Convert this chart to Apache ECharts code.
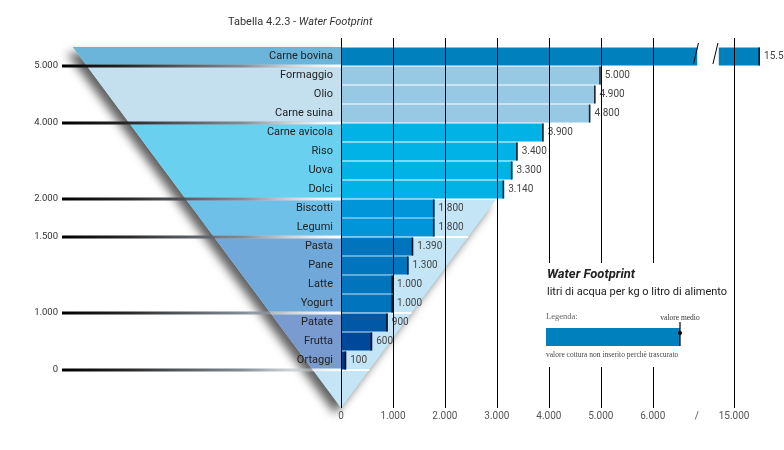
<!DOCTYPE html>
<html><head><meta charset="utf-8">
<script src="https://cdn.jsdelivr.net/npm/echarts@6/dist/echarts.min.js"></script>
<style>html,body{margin:0;padding:0;background:#fff}#c{width:784px;height:450px}</style>
</head><body><div id="c"></div>
<script>
// ---- data ----
const categories = ['Carne bovina','Formaggio','Olio','Carne suina','Carne avicola','Riso','Uova','Dolci','Biscotti','Legumi','Pasta','Pane','Latte','Yogurt','Patate','Frutta','Ortaggi'];
const values = [15500,5000,4900,4800,3900,3400,3300,3140,1800,1800,1390,1300,1000,1000,900,600,100];
const xTickLabels = [0,1000,2000,3000,4000,5000,6000,15000];
const scaleLabels = ['5.000','4.000','2.000','1.500','1.000','0'];
const scaleAfter = ['Carne bovina','Carne suina','Dolci','Legumi','Yogurt','Ortaggi'];
const axisBreak = { start: 6850, end: 14700, gap: 414 };

// ---- styles ----
const barColors = ['#0080BD','#97C9E4','#97C9E4','#97C9E4','#00B2E5','#00B2E5','#00B2E5','#00B2E5','#0095D8','#0095D8','#0074BC','#0074BC','#0074BC','#0074BC','#0058A6','#00489A','#003B85'];
const bandColors = ['#6CB5DA','#C4E0EF','#6AD0F0','#6EC0E9','#6FA8D9','#7A9BCF'];
const lightTri = '#C3E5F6';

const fmt = v => v >= 1000 ? Math.floor(v/1000) + '.' + String(v % 1000).padStart(3,'0') : String(v);

function xAxisCfg(pos) {
  const bottom = pos === 'bottom';
  return {
    type: 'value', position: pos, min: 0, max: 16000, interval: 1000,
    breaks: [{ start: axisBreak.start, end: axisBreak.end, gap: axisBreak.gap }],
    breakArea: { show: true, itemStyle: { color: '#fff', borderWidth: 0, borderColor: 'rgba(0,0,0,0)', opacity: 1 }, zigzagAmplitude: 0, expandOnClick: false },
    z: 5,
    axisLine: { show: false },
    axisTick: { show: true, inside: false, customValues: xTickLabels, length: bottom ? 38 : 9, lineStyle: { color: '#000', width: 1 } },
    splitLine: { show: bottom, lineStyle: { color: '#000', width: 1 } },
    axisLabel: {
      show: bottom, margin: 41, fontSize: 10, color: '#555', fontFamily: 'Roboto',
      customValues: xTickLabels.concat([axisBreak.start]),
      formatter: v => v === axisBreak.start ? '/' : fmt(v)
    }
  };
}

const chart = echarts.init(document.getElementById('c'), null, { renderer: 'canvas' });
const option = {
  animation: false,
  backgroundColor: '#fff',
  title: {
    left: 223, top: 12,
    text: '{a|Tabella 4.2.3 - }{b|Water Footprint}',
    textStyle: { fontWeight: 'normal', rich: {
      a: { fontSize: 11, color: '#333', fontFamily: 'Roboto', fontWeight: 'normal' },
      b: { fontSize: 11, color: '#333', fontFamily: 'Roboto', fontWeight: 'normal', fontStyle: 'italic' }
    } }
  },
  grid: { left: 341, width: 445, top: 47, bottom: 80, outerBoundsMode: 'none', containLabel: false },
  xAxis: [xAxisCfg('bottom'), xAxisCfg('top')],
  yAxis: {
    type: 'category', data: categories, inverse: true, z: 6,
    axisLine: { show: false }, axisTick: { show: false }, splitLine: { show: false },
    axisLabel: { margin: 8, fontSize: 11, color: '#222', fontFamily: 'Roboto' }
  },
  series: [
    {
      type: 'bar', xAxisIndex: 0, barWidth: 18, z: 2,
      data: values.map((v, i) => ({ value: v, itemStyle: { color: barColors[i] } })),
      label: { show: true, position: 'right', distance: 4, formatter: p => fmt(p.value), fontSize: 10, color: '#444', fontFamily: 'Roboto' }
    },
    {
      type: 'scatter', xAxisIndex: 0, z: 3, silent: true,
      symbol: 'rect', symbolSize: [1.6, 18], symbolOffset: [-0.8, 0],
      itemStyle: { color: '#000' },
      data: values.map((v, i) => [v, i])
    }
  ]
};
chart.setOption(option);

// ---- decorative funnel, scale & legend derived from the axes ----
const P = (v, i) => chart.convertToPixel({ gridIndex: 0 }, [v, i]);
const x0 = P(0, 0)[0];
const rh = P(0, 1)[1] - P(0, 0)[1];
const rowTop = i => P(0, i)[1] - rh / 2;
const rowBot = i => P(0, i)[1] + rh / 2;
const topY = rowTop(0);
const lastY = rowBot(categories.length - 1);
const apexY = lastY + 2 * rh;
const k = 0.743;
const xl = y => x0 - k * (apexY - y);
const xr = y => x0 + k * (apexY - y);

const bounds = [topY].concat(scaleAfter.map(c => rowBot(categories.indexOf(c))));
const yRight = bounds[3]; // right half of the funnel visible from the 2.000 band down
const els = [];
els.push({ type: 'polygon', z: 1, shape: { points: [[xl(topY), topY], [x0, topY], [x0, yRight], [xr(yRight), yRight], [x0, apexY]] },
  style: { fill: lightTri, shadowBlur: 10, shadowOffsetX: -6, shadowOffsetY: 6, shadowColor: 'rgba(0,0,0,0.62)' } });
for (let b = 0; b < bandColors.length; b++) {
  const y1 = bounds[b] + (b === 0 ? 0 : 1.5), y2 = bounds[b + 1] - 1.5;
  els.push({ type: 'polygon', z: 1, shape: { points: [[xl(y1), y1], [x0, y1], [x0, y2], [xl(y2), y2]] }, style: { fill: bandColors[b] } });
}
for (let b = 1; b < bounds.length; b++) {
  const y = bounds[b];
  const right = y >= yRight - 0.5 ? xr(y) : x0;
  els.push({ type: 'rect', z: 1, shape: { x: xl(y), y: y - 1, width: right - xl(y), height: 2 }, style: { fill: '#fff' } });
  els.push({ type: 'rect', z: 4, shape: { x: 62, y: y - 1.5, width: x0 - 62, height: 3 },
    style: { fill: { type: 'linear', x: 0, y: 0, x2: 1, y2: 0, colorStops: [
      { offset: 0, color: '#000' }, { offset: 0.25, color: '#2a2a2a' }, { offset: 0.65, color: 'rgba(110,120,130,0.85)' }, { offset: 1, color: 'rgba(255,255,255,0.4)' } ] } } });
  els.push({ type: 'text', z: 4, x: 58, y: y, style: { text: scaleLabels[b - 1], align: 'right', verticalAlign: 'middle', fontSize: 9.5, fontFamily: 'Roboto', fill: '#333' } });
}
// break marks on the first bar
const bs = P(axisBreak.start, 0)[0], be = P(axisBreak.end, 0)[0];
[bs - 1, be - 3].forEach(x => els.push({ type: 'line', z: 200, shape: { x1: x + 2.5, y1: topY - 4, x2: x - 2.5, y2: rowBot(0) - 2 }, style: { stroke: '#000', lineWidth: 1 } }));
// legend box
const LZ = 200;
els.push({ type: 'rect', z: LZ, shape: { x: 538, y: 263, width: 170, height: 104 }, style: { fill: '#fff' } });
els.push({ type: 'text', z: LZ + 1, x: 547, y: 275, style: { text: 'Water Footprint', verticalAlign: 'middle', fontSize: 13, fontWeight: 'bold', fontStyle: 'italic', fontFamily: 'Roboto', fill: '#222' } });
els.push({ type: 'text', z: LZ + 1, x: 547, y: 292, style: { text: 'litri di acqua per kg o litro di alimento', verticalAlign: 'middle', fontSize: 11, fontFamily: 'Roboto', fill: '#222' } });
els.push({ type: 'text', z: LZ + 1, x: 546, y: 317, style: { text: 'Legenda:', verticalAlign: 'middle', fontSize: 8.5, fontFamily: 'Liberation Serif', fill: '#666' } });
els.push({ type: 'text', z: LZ + 1, x: 680, y: 318, style: { text: 'valore medio', align: 'center', verticalAlign: 'middle', fontSize: 7.5, fontFamily: 'Liberation Serif', fill: '#333' } });
els.push({ type: 'rect', z: LZ + 1, shape: { x: 546, y: 328, width: 134, height: 18 }, style: { fill: '#0080BD' } });
els.push({ type: 'line', z: LZ + 2, shape: { x1: 680, y1: 322, x2: 680, y2: 346 }, style: { stroke: '#000', lineWidth: 1.2 } });
els.push({ type: 'circle', z: LZ + 2, shape: { cx: 680, cy: 333, r: 2 }, style: { fill: '#000' } });
els.push({ type: 'text', z: LZ + 1, x: 546, y: 355, style: { text: 'valore cottura non inserito perchè trascurato', verticalAlign: 'middle', fontSize: 7.5, fontFamily: 'Liberation Serif', fill: '#444' } });

chart.setOption({ graphic: { elements: els } });
</script></body></html>
